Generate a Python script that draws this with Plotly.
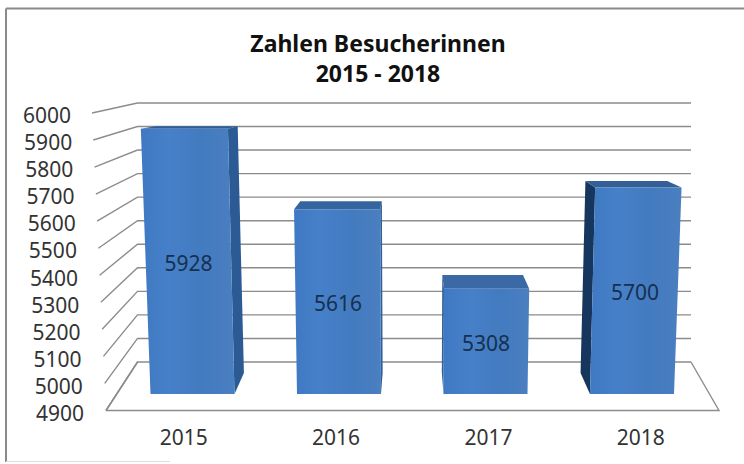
import plotly.graph_objects as go

# --- data ---
categories = ["2015", "2016", "2017", "2018"]
values = [5928, 5616, 5308, 5700]
value_ticks = [6000, 5900, 5800, 5700, 5600, 5500, 5400, 5300, 5200, 5100, 5000, 4900]
title_lines = ["Zahlen Besucherinnen", "2015 - 2018"]

# --- pseudo-3D look, all expressed in axis units ---
BASE = 4900
TOP = 6000
W, H = 744, 464
PX_PER_CAT = 146.5
PX_PER_VAL = 0.258
X0_PX, Y0_PX = 192.5, 394       # category 0 / value 4900 on the bars' front plane
XC = (412 - X0_PX) / PX_PER_CAT  # centre of perspective
LEAN = 3.6e-5
HALF = 42 / PX_PER_CAT

# plane: (x scale, y scale, y offset in value units, lean)
BAR_FRONT = (1.0, 1.0, 0.0, LEAN)
BAR_BACK = (0.947, 0.93, 21 / PX_PER_VAL, LEAN)
WALL_BACK = (1.2645, 0.2355 / PX_PER_VAL, (394 - 362) / PX_PER_VAL, 0.0)
FLOOR_FRONT = (1.40, 0.2705 / PX_PER_VAL, (394 - 410.5) / PX_PER_VAL, 2.2e-4)

def proj(u, v, plane):
    sx, sy, off, lean = plane
    d = v - BASE
    return XC + (u - XC) * sx * (1 + lean * d), BASE + off + d * sy

SIDE_COLS = ["#2b5a94", "#2f5f9c", "#2f5f9c", "#17365d"]
TOP_COLS = ["#2f5d97", "#35649f", "#3a69a6", "#345f96"]
GRID = "#8c8c8c"
FONT = "Noto Sans"

fig = go.Figure()

def line(xs, ys, col=GRID, w=1.4):
    fig.add_trace(go.Scatter(x=xs, y=ys, mode="lines", line=dict(color=col, width=w),
                             hoverinfo="skip", showlegend=False))

def poly(pts, col=None, grad=None):
    xs = [p[0] for p in pts] + [pts[0][0]]
    ys = [p[1] for p in pts] + [pts[0][1]]
    kw = dict(fillcolor=col) if col else dict(fillgradient=grad)
    fig.add_trace(go.Scatter(x=xs, y=ys, mode="lines", fill="toself", line=dict(width=0, color="rgba(0,0,0,0)"),
                             hoverinfo="skip", showlegend=False, **kw))

# walls: back-wall gridlines and left-wall diagonals
left_u = (106 - X0_PX) / PX_PER_CAT
right_u = (719 - X0_PX) / PX_PER_CAT
back_l = (137.5 - X0_PX) / PX_PER_CAT
back_r = (691 - X0_PX) / PX_PER_CAT
for t in value_ticks:
    d = t - BASE
    by = proj(0, t, WALL_BACK)[1]
    fy = proj(0, t, FLOOR_FRONT)[1]
    fx = left_u - (14 / PX_PER_CAT) * d / (TOP - BASE)
    line([fx, back_l, back_r], [fy, by, by])
fb = proj(0, BASE, FLOOR_FRONT)[1]
bb = proj(0, BASE, WALL_BACK)[1]
line([back_l, left_u, right_u, back_r], [bb, fb, fb, bb])

# bars
grad = dict(type="horizontal",
            colorscale=[[0, "#3f79c3"], [0.3, "#4680c8"], [0.65, "#437bc0"], [1, "#4a7fc0"]])
for i, v in enumerate(values):
    l, r = i - HALF, i + HALF
    fl0, fr0 = proj(l, BASE, BAR_FRONT), proj(r, BASE, BAR_FRONT)
    fl1, fr1 = proj(l, v, BAR_FRONT), proj(r, v, BAR_FRONT)
    bl0, br0 = proj(l, BASE, BAR_BACK), proj(r, BASE, BAR_BACK)
    bl1, br1 = proj(l, v, BAR_BACK), proj(r, v, BAR_BACK)
    if i < 2:
        poly([fr0, br0, br1, fr1], SIDE_COLS[i])
    else:
        poly([fl0, bl0, bl1, fl1], SIDE_COLS[i])
    poly([fl1, bl1, br1, fr1], TOP_COLS[i])
    poly([fl0, fr0, fr1, fl1], grad=grad)

# data labels, mid-height of each bar
mids = [proj(i, (BASE + v) / 2 - 16, BAR_FRONT) for i, v in enumerate(values)]
fig.add_trace(go.Scatter(x=[m[0] for m in mids], y=[m[1] for m in mids], mode="text",
                         text=[str(v) for v in values],
                         textfont=dict(family=FONT, size=21, color="#16304f"),
                         hoverinfo="skip", showlegend=False))

# value labels down the slanted left wall
lab_x = [(71 + (84 - 71) * (TOP - t) / (TOP - BASE) - X0_PX) / PX_PER_CAT for t in value_ticks]
lab_y = [BASE + (Y0_PX - (415.5 - (t - BASE) * 0.2705)) / PX_PER_VAL for t in value_ticks]
fig.add_trace(go.Scatter(x=lab_x, y=lab_y, mode="text", text=[str(t) for t in value_ticks],
                         textposition="middle left",
                         textfont=dict(family=FONT, size=21, color="#333333"),
                         hoverinfo="skip", showlegend=False))

PLOT_BOTTOM = 422
xr = [(0 - X0_PX) / PX_PER_CAT, (W - X0_PX) / PX_PER_CAT]
yr = [BASE + (Y0_PX - PLOT_BOTTOM) / PX_PER_VAL, BASE + Y0_PX / PX_PER_VAL]

def hline(y_px, x0, x1, col, w):
    return dict(type="line", xref="paper", yref="paper", x0=x0 / W, x1=x1 / W,
                y0=1 - y_px / PLOT_BOTTOM, y1=1 - y_px / PLOT_BOTTOM,
                line=dict(color=col, width=w), layer="below")

fig.update_layout(
    width=W, height=H, autosize=False,
    margin=dict(l=0, r=0, t=0, b=H - PLOT_BOTTOM, pad=0),
    paper_bgcolor="white", plot_bgcolor="rgba(0,0,0,0)", showlegend=False,
    xaxis=dict(range=xr, showgrid=False, zeroline=False, showline=False,
               tickmode="array",
               tickvals=[proj(i, BASE, (1.04, 1, 0, 0))[0] for i in range(len(categories))],
               ticktext=categories, ticks="", ticklabelstandoff=1,
               tickfont=dict(family=FONT, size=21, color="#333333")),
    yaxis=dict(range=yr, visible=False),
    title=dict(text="<b>" + "<br>".join(title_lines) + "</b>", x=(243 + 513) / 2 / W, xanchor="center",
               y=1 - 52 / H, yanchor="top",
               font=dict(family=FONT, size=23, color="#111111")),
    shapes=[
        hline(8.5, 6, W, "#8a8a8a", 2),
        dict(type="line", xref="paper", yref="paper", x0=6 / W, x1=6 / W, y0=1 - 8.5 / PLOT_BOTTOM,
             y1=1 - 462 / PLOT_BOTTOM, line=dict(color="#8a8a8a", width=2), layer="below"),
        hline(461.5, 6, 170, "#dcdcdc", 1),
    ],
)
fig.write_html("out.html", config=dict(displayModeBar=False),
               post_script="document.body.style.margin='0';")
